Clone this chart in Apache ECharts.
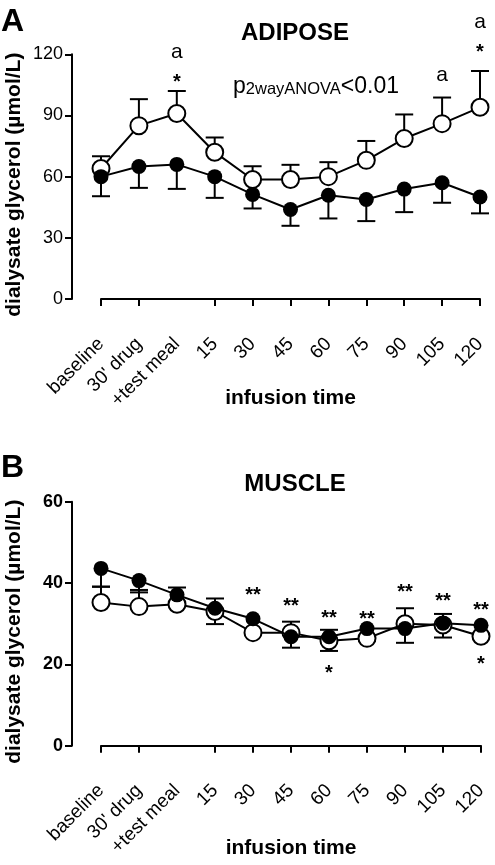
<!DOCTYPE html>
<html><head><meta charset="utf-8">
<script src="https://cdn.jsdelivr.net/npm/echarts@6/dist/echarts.min.js"></script>
<style>html,body{margin:0;padding:0;background:#fff}#c{width:495px;height:865px}</style>
</head><body><div id="c"></div>
<script>
const categories = ['baseline', "30' drug", '+test meal', '15', '30', '45', '60', '75', '90', '105', '120'];
const adiposeOpen = [64, 85, 91, 72, 58.6, 58.6, 60, 68, 78.7, 86, 94];
const adiposeOpenUpper = [70, 98, 102, 79.2, 65.1, 65.8, 67.1, 77.5, 90.5, 98.8, 111.8];
const adiposeFilled = [60, 65, 66, 60, 51.3, 43.9, 50.9, 48.8, 53.9, 57, 50];
const adiposeFilledLower = [50.4, 54.5, 54, 49.6, 44.4, 35.9, 39.5, 38.2, 42.6, 47.2, 42];
const muscleOpen = [35.2, 34.2, 34.8, 33.0, 27.8, 27.8, 25.8, 26.4, 30.0, 29.7, 26.9];
const muscleOpenUpper = [39.1, 38.3, 38.9, 36.2, null, 30.5, 28.5, null, 33.8, 32.4, null];
const muscleFilled = [43.6, 40.6, 37.1, 33.8, 31.2, 26.8, 26.8, 28.8, 28.8, 30.1, 29.6];
const muscleFilledLower = [39.1, 37.7, 34.6, 29.9, 28.2, 24.1, 23.3, 25.8, 25.3, 26.6, 26.4];
const adiposeYTicks = [0, 30, 60, 90, 120];
const muscleYTicks = [0, 20, 40, 60];
// annotations: [category index, value, text]
const adiposeMarks = [[2, 121, 'a'], [2, 108.7, '*'], [9, 109.7, 'a'], [10, 135.7, 'a'], [10, 123.4, '*']];
const muscleMarks = [[4, 38.1, '**'], [5, 35.4, '**'], [6, 32.6, '**'], [7, 32.3, '**'], [8, 39.0, '**'], [9, 36.6, '**'], [10, 34.6, '**'], [6, 19.0, '*'], [10, 21.1, '*']];

const FONT = "'Liberation Sans', Arial, sans-serif";
const chart = echarts.init(document.getElementById('c'), null, {renderer: 'canvas'});

function errSeries(vals, ends, gi) {
  return {
    type: 'custom', xAxisIndex: gi, yAxisIndex: gi, z: 1, silent: true,
    data: vals.map((v, i) => ends[i] == null ? null : [i, v, ends[i]]).filter(Boolean),
    renderItem: (params, api) => {
      const p0 = api.coord([api.value(0), api.value(1)]);
      const p1 = api.coord([api.value(0), api.value(2)]);
      return {type: 'group', children: [
        {type: 'line', shape: {x1: p0[0], y1: p0[1], x2: p1[0], y2: p1[1]}, style: {stroke: '#000', lineWidth: 2}},
        {type: 'line', shape: {x1: p1[0] - 9, y1: p1[1], x2: p1[0] + 9, y2: p1[1]}, style: {stroke: '#000', lineWidth: 2}}
      ]};
    }
  };
}
function lineSeries(vals, open, gi) {
  return {
    type: 'line', xAxisIndex: gi, yAxisIndex: gi, data: vals, z: open ? 2 : 3,
    symbol: 'circle', symbolSize: open ? 17 : 15, showSymbol: true,
    lineStyle: {color: '#000', width: 2},
    itemStyle: open ? {color: '#fff', borderColor: '#000', borderWidth: 2} : {color: '#000', borderColor: '#000', borderWidth: 0},
    animation: false
  };
}
function markSeries(marks, gi) {
  return {
    type: 'scatter', xAxisIndex: gi, yAxisIndex: gi, symbolSize: 0, clip: false, z: 5, silent: true,
    itemStyle: {opacity: 1, color: '#000'},
    data: marks.map(m => ({
      value: [m[0], m[1]],
      label: {
        show: true, position: 'inside', formatter: m[2],
        fontFamily: FONT, color: '#000', opacity: 1, textBorderWidth: 0,
        fontSize: m[2] === 'a' ? 21 : 20, fontWeight: m[2] === 'a' ? 'normal' : 'bold',
        offset: m[2] === 'a' ? [0, 0] : [0, 5]
      }
    }))
  };
}
function xAxis(gi, gap) {
  return {
    type: 'category', gridIndex: gi, data: categories, boundaryGap: false, offset: 27,
    axisLine: {lineStyle: {color: '#000', width: 2}},
    axisTick: {length: 7, lineStyle: {color: '#000', width: 2}, interval: (i) => i !== 2},
    axisLabel: {interval: 0, rotate: 45, margin: 15, color: '#000', fontSize: 19, fontFamily: FONT},
    name: 'infusion time', nameLocation: 'middle', nameGap: gap, nameMoveOverlap: false,
    nameTextStyle: {color: '#000', fontSize: 21, fontWeight: 'bold', fontFamily: FONT},
    splitLine: {show: false}
  };
}
function yAxis(gi, ticks, bold) {
  return {
    type: 'value', gridIndex: gi, min: ticks[0], max: ticks[ticks.length - 1], interval: ticks[1] - ticks[0],
    offset: 29,
    axisLine: {show: true, lineStyle: {color: '#000', width: 2}},
    axisTick: {show: true, length: 7, lineStyle: {color: '#000', width: 2}},
    axisLabel: {margin: 9, color: '#000', fontSize: 18, fontFamily: FONT, fontWeight: bold ? 'bold' : 'normal'},
    splitLine: {show: false},
    name: 'dialysate glycerol (\u00b5mol/L)', nameLocation: 'middle', nameGap: 47, nameRotate: 90, nameMoveOverlap: false,
    nameTextStyle: {color: '#000', fontSize: 21, fontWeight: 'bold', fontFamily: FONT, padding: [0, 16, 0, 0]}
  };
}

chart.setOption({
  animation: false,
  backgroundColor: '#fff',
  title: [
    {text: 'ADIPOSE', left: 290, top: 16, textAlign: 'center', textStyle: {fontSize: 24, fontWeight: 'bold', fontFamily: FONT, color: '#000'}},
    {text: 'MUSCLE', left: 290, top: 467, textAlign: 'center', textStyle: {fontSize: 24, fontWeight: 'bold', fontFamily: FONT, color: '#000'}}
  ],
  graphic: [
    {type: 'text', left: 1, top: 6, style: {text: 'A', fontSize: 32, fontWeight: 'bold', fontFamily: FONT, fill: '#000'}},
    {type: 'text', left: 1, top: 452, style: {text: 'B', fontSize: 32, fontWeight: 'bold', fontFamily: FONT, fill: '#000'}},
    {type: 'text', left: 233, top: 75, style: {
      text: '{p|p}{s|2wayANOVA}{p|<0.01}', fontFamily: FONT, fill: '#000',
      rich: {
        p: {fontSize: 23, fontFamily: FONT, fill: '#000', verticalAlign: 'bottom', lineHeight: 25},
        s: {fontSize: 16.5, fontFamily: FONT, fill: '#000', verticalAlign: 'bottom', lineHeight: 25}
      }
    }}
  ],
  grid: [
    {left: 101, top: 54.3, width: 379, height: 244.7, containLabel: false, outerBoundsMode: 'none'},
    {left: 101, top: 501.7, width: 380, height: 244, containLabel: false, outerBoundsMode: 'none'}
  ],
  xAxis: [xAxis(0, 62), xAxis(1, 65)],
  yAxis: [yAxis(0, adiposeYTicks, false), yAxis(1, muscleYTicks, true)],
  series: [
    errSeries(adiposeOpen, adiposeOpenUpper, 0),
    errSeries(adiposeFilled, adiposeFilledLower, 0),
    lineSeries(adiposeOpen, true, 0),
    lineSeries(adiposeFilled, false, 0),
    markSeries(adiposeMarks, 0),
    errSeries(muscleOpen, muscleOpenUpper, 1),
    errSeries(muscleFilled, muscleFilledLower, 1),
    lineSeries(muscleOpen, true, 1),
    lineSeries(muscleFilled, false, 1),
    markSeries(muscleMarks, 1)
  ]
});
</script></body></html>
